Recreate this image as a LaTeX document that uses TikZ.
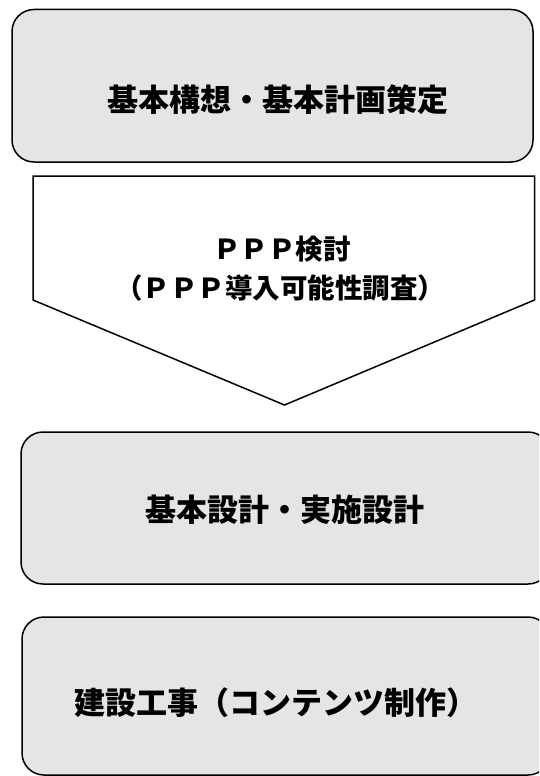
\documentclass[tikz,border=0pt]{standalone}
\usepackage{fontspec}
\newfontfamily\jp{Noto Sans CJK JP}
\tikzset{
  stage/.style={draw=black, line width=1.5pt, fill=boxgray, rounded corners=22pt},
  jptext/.style={font=\jp\bfseries\fontsize{31}{37}\selectfont, inner sep=0pt, anchor=center},
  ppptext/.style={font=\jp\bfseries\fontsize{27.5}{33}\selectfont, inner sep=0pt, anchor=center},
}
\definecolor{boxgray}{gray}{0.9}
\begin{document}
\begin{tikzpicture}[x=1pt,y=-1pt]
\useasboundingbox (0,0) rectangle (539,776);
\clip (0,0) rectangle (539,776);
% stage boxes
\draw[stage] (12,9.5) rectangle (533,162);
\node[jptext] (t1) at (278,100) {基本構想・基本計画策定};
% arrow
\coordinate (a1) at (33,176);
\coordinate (a2) at (534.5,176);
\coordinate (a3) at (534.5,300);
\coordinate (a4) at (284.5,405);
\coordinate (a5) at (33,300);
\draw[line width=1.5pt, fill=white, line join=miter] (a1) -- (a2) -- (a3) -- (a4) -- (a5) -- cycle;
\node[ppptext] (t2) at (282,249) {ＰＰＰ検討};
\node[ppptext] (t3) at (280,288) {（ＰＰＰ導入可能性調査）};
% second box
\draw[stage] (21,432) rectangle (550,584);
\node[jptext] (t4) at (284.5,510) {基本設計・実施設計};
% third box
\draw[stage] (22,617) rectangle (550,775);
\node[jptext] (t5) at (276,703) {建設工事（コンテンツ制作）};
\end{tikzpicture}
\end{document}
